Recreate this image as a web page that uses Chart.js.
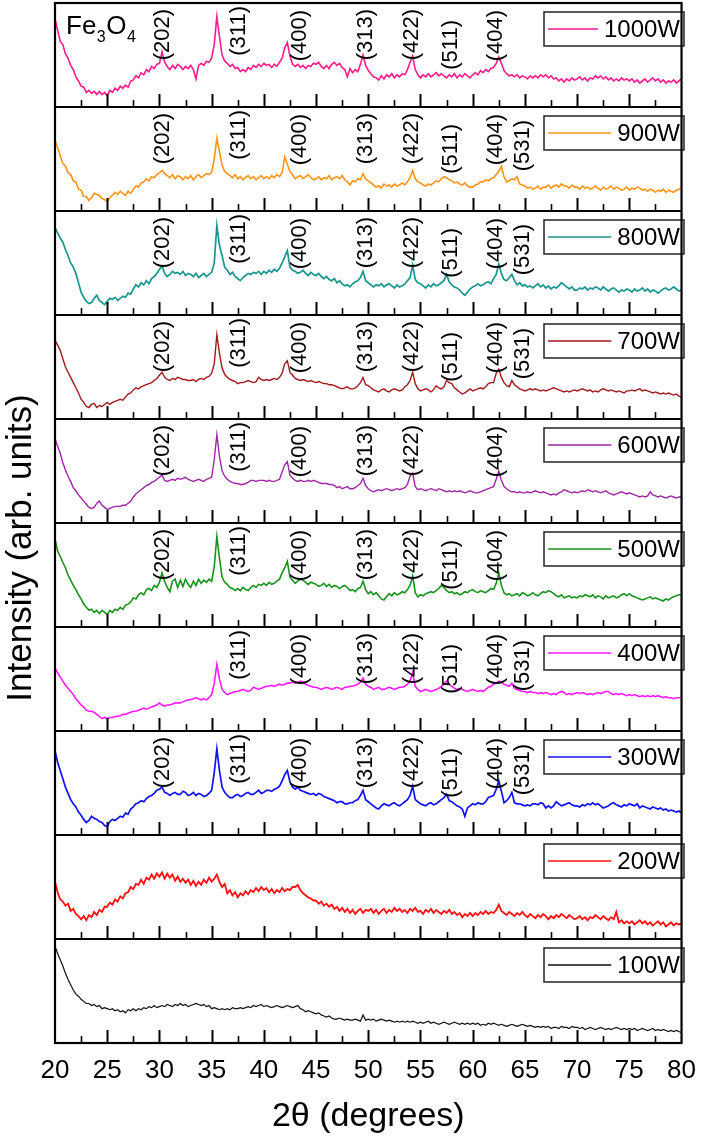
<!DOCTYPE html>
<html>
<head>
<meta charset="utf-8">
<title>Fe3O4 XRD patterns</title>
<script src="https://cdn.jsdelivr.net/npm/chart.js@4.4.1/dist/chart.umd.min.js"></script>
<style>
  html, body { margin: 0; padding: 0; background: #fff; }
  #wrap { width: 708px; height: 1139px; }
</style>
</head>
<body>
<div id="wrap"><canvas id="xrdChart" width="708" height="1139"></canvas></div>
<script>
// ── Data (0.25° sampling, panel units 0–100) ──
const STEP = 0.25;
const twoTheta = Array.from({ length: 241 }, (_, i) => 20 + i * STEP);
const xTicks = [20, 25, 30, 35, 40, 45, 50, 55, 60, 65, 70, 75, 80];

const powers = ['1000W', '900W', '800W', '700W', '600W', '500W', '400W', '300W', '200W', '100W'];

const w1000 = [
  85,74,63,60,51,47,40,36,29,25,20,19,14,16,13,15,12,15,12,14,
  11,16,14,18,16,20,18,21,19,25,26,30,28,33,31,36,34,39,37,41,
  42,53,43,39,36,40,37,41,39,36,39,37,40,36,27,40,42,40,44,43,
  47,60,87,68,50,44,42,39,41,37,38,34,36,34,38,36,40,38,41,39,
  42,40,41,38,41,39,43,47,57,62,49,41,39,41,38,40,37,40,39,42,
  41,43,39,37,40,37,41,43,40,42,38,36,29,37,33,36,34,41,50,40,
  35,32,29,28,26,30,27,31,29,32,28,31,29,32,31,36,43,49,36,31,
  28,31,29,32,29,31,33,30,32,30,28,31,29,32,28,31,29,32,30,28,
  31,33,31,35,33,36,34,37,38,42,48,42,35,32,30,31,29,31,28,30,
  29,27,30,28,30,28,31,29,31,28,30,27,28,25,27,24,27,25,28,26,
  27,29,26,28,25,28,27,30,28,30,27,29,26,28,25,27,25,28,26,27,
  25,27,24,26,23,25,27,24,26,28,25,27,24,26,23,25,24,26,23,25,
  27
];
const w900 = [
  68,61,53,46,43,37,35,29,28,21,20,14,14,10,13,17,16,15,12,11,
  9,13,15,18,16,19,17,15,19,17,21,24,23,27,28,31,29,33,32,35,
  37,39,36,34,32,35,31,34,33,30,33,31,34,30,33,35,32,34,36,35,
  37,50,70,57,44,38,36,34,32,35,31,33,30,32,34,31,33,30,32,34,
  31,33,31,34,32,35,33,37,52,45,38,35,31,33,34,31,33,35,32,30,
  31,33,30,32,31,34,30,32,33,31,34,30,28,25,29,28,31,30,36,31,
  29,27,25,23,24,22,26,24,25,23,26,24,25,27,25,28,32,39,31,28,
  27,25,24,26,25,27,29,28,31,33,32,30,29,27,28,26,25,27,24,23,
  23,25,26,28,28,30,29,31,32,35,38,43,33,28,29,31,30,33,26,25,
  24,22,23,21,22,24,21,23,23,25,22,24,25,23,26,24,24,22,25,23,
  23,21,24,22,23,21,22,24,22,20,23,21,22,24,21,23,22,20,21,23,
  20,22,21,23,22,20,21,19,21,20,18,20,19,21,18,20,19,18,20,21,
  22
];
const w800 = [
  84,79,74,70,63,57,50,46,40,31,22,17,13,11,12,16,19,14,12,10,
  13,16,15,17,14,16,18,17,21,20,25,29,27,31,29,33,30,35,37,40,
  44,47,40,37,39,42,40,41,39,42,38,40,39,37,40,36,38,40,37,39,
  41,50,86,67,57,46,43,39,41,37,35,33,36,38,40,39,41,40,42,39,
  42,40,43,41,44,42,45,50,56,62,46,43,42,40,41,43,40,38,41,39,
  38,40,37,35,37,34,33,35,31,33,30,28,29,27,30,32,33,36,42,33,
  31,29,27,29,28,30,27,29,30,28,26,29,27,28,30,33,36,48,34,31,
  30,28,26,29,27,30,28,29,31,33,39,32,29,27,26,24,21,19,22,25,
  27,28,30,28,29,31,32,30,35,39,49,40,34,33,36,39,33,29,31,28,
  29,27,28,26,28,30,27,29,26,28,25,27,26,28,31,29,27,25,27,24,
  24,26,25,27,24,26,25,27,26,24,27,25,23,25,26,24,22,24,23,25,
  24,22,25,23,24,26,23,25,22,24,23,21,23,25,26,24,25,27,25,23,
  24
];
const w700 = [
  76,71,66,58,50,45,40,35,30,25,19,16,12,11,14,15,11,13,12,14,
  16,14,16,17,18,19,18,21,24,25,28,30,29,31,32,33,34,35,37,39,
  42,45,40,38,37,39,38,40,39,38,38,37,37,38,36,38,39,38,40,41,
  44,53,81,63,49,43,40,38,37,36,34,35,35,36,37,36,35,36,40,38,
  37,38,37,38,39,38,40,44,53,56,45,42,39,38,37,38,37,36,37,36,
  35,36,35,34,34,33,33,32,31,30,29,30,31,29,29,30,32,35,40,33,
  32,30,28,27,26,28,29,27,26,28,29,28,27,28,31,33,37,45,34,29,
  27,28,29,28,26,28,32,30,29,31,37,35,34,30,28,26,24,25,27,29,
  27,28,29,30,29,31,34,35,35,44,48,40,35,32,31,37,33,31,29,28,
  27,28,29,28,29,28,27,28,27,28,29,30,29,28,27,26,27,26,27,28,
  27,28,29,28,27,28,26,27,26,28,29,28,27,28,27,26,27,26,25,27,
  27,28,27,28,29,27,28,27,26,25,26,25,24,25,24,25,24,23,24,22,
  21
];
const w600 = [
  81,74,67,58,51,45,40,34,31,27,24,21,18,15,14,15,19,21,17,15,
  13,14,15,16,16,16,17,17,19,21,25,28,30,32,34,36,37,39,40,42,
  44,46,41,40,41,42,41,43,42,43,44,42,41,40,41,42,41,40,42,43,
  44,61,85,64,50,45,42,40,39,38,38,37,37,38,39,41,41,40,41,41,
  41,40,41,40,40,41,42,49,56,59,46,43,41,40,41,40,40,41,40,41,
  40,39,38,38,38,37,37,36,34,35,33,34,35,33,33,34,36,38,43,36,
  33,31,30,31,32,31,32,33,32,31,32,33,32,33,34,37,45,48,35,32,
  33,32,31,32,33,32,31,33,32,31,30,31,30,31,30,31,30,29,30,31,
  30,29,29,30,31,32,33,34,35,42,50,41,35,33,31,30,30,29,30,29,
  29,30,29,30,31,30,29,30,29,28,27,28,27,29,30,32,31,30,29,30,
  29,30,31,30,32,31,30,31,30,29,30,31,29,28,27,28,29,30,29,28,
  29,28,27,26,25,26,25,26,30,27,26,25,26,25,24,25,26,25,24,25,
  25
];
const w500 = [
  85,73,68,62,57,50,45,40,36,31,27,22,19,16,17,14,16,13,16,14,
  12,16,14,17,16,19,17,21,22,24,28,27,31,33,31,36,37,35,40,38,
  43,52,44,38,34,44,46,38,45,39,46,41,38,44,40,46,42,45,43,46,
  44,58,87,66,48,43,41,38,37,35,37,35,38,36,35,38,40,38,41,40,
  42,40,43,41,42,44,46,52,57,63,48,45,42,44,46,45,43,41,43,42,
  41,39,40,42,39,41,38,40,39,37,39,40,38,35,36,34,37,38,44,36,
  32,34,31,33,30,27,26,29,32,30,33,31,32,34,33,36,40,49,33,29,
  31,30,32,33,34,33,35,37,40,38,35,33,34,32,33,31,32,34,33,35,
  36,34,33,35,34,33,35,37,36,42,52,40,33,31,32,30,31,32,30,33,
  32,30,31,33,31,30,32,34,33,35,34,32,30,29,31,28,29,30,28,29,
  28,30,29,31,30,29,31,28,30,29,27,30,28,29,30,28,29,31,32,30,
  32,30,29,28,27,26,27,28,29,27,28,27,26,25,27,26,28,29,30,31,
  31
];
const w400 = [
  61,56,52,48,44,41,38,35,31,28,25,23,20,19,19,18,16,14,12,13,
  12,13,13,14,14,15,16,16,17,18,19,19,20,21,22,21,22,23,24,25,
  27,25,24,25,25,26,27,27,27,28,29,30,30,31,32,31,30,31,30,32,
  35,46,64,50,40,37,35,36,37,38,38,39,40,39,38,39,42,41,40,41,
  42,43,43,44,43,44,45,44,45,46,46,47,46,47,48,47,45,44,43,42,
  42,41,40,41,42,41,40,41,42,41,40,42,42,43,43,44,45,47,51,45,
  43,42,40,41,42,40,40,41,42,41,40,41,42,42,43,45,48,56,43,40,
  38,39,40,39,38,39,40,41,43,45,48,45,43,41,40,41,40,39,38,39,
  40,39,38,39,38,40,42,43,45,46,48,47,45,44,43,46,41,40,39,38,
  38,37,38,37,37,36,37,36,37,36,35,36,35,37,38,37,35,36,35,36,
  37,36,37,36,35,36,35,36,37,36,37,38,38,36,35,36,35,36,35,34,
  35,34,35,34,33,34,33,34,33,34,33,34,33,32,33,32,32,31,32,32,
  32
];
const w300 = [
  81,70,62,54,46,40,34,30,27,22,19,15,12,14,18,16,15,13,12,9,
  8,13,15,14,16,18,17,21,20,25,27,30,31,33,32,35,37,38,40,43,
  44,46,41,40,38,40,41,39,39,42,41,38,39,41,38,40,39,37,38,40,
  43,60,83,62,46,41,38,36,36,38,39,37,38,40,41,39,39,41,43,40,
  41,43,43,42,44,45,47,52,58,62,51,46,44,46,43,42,41,40,39,40,
  38,40,39,37,36,35,34,33,31,32,32,30,30,31,31,33,34,38,43,34,
  32,30,28,26,25,28,30,29,28,30,31,29,28,30,32,34,38,47,34,32,
  30,29,28,30,31,29,30,32,34,36,39,33,32,30,28,27,25,18,26,28,
  30,29,31,30,30,32,36,37,38,44,52,42,31,33,36,41,31,30,30,29,
  28,29,28,30,30,29,31,30,26,28,26,28,32,30,28,29,30,31,29,28,
  28,27,29,28,30,29,31,29,30,28,26,27,28,30,31,29,28,27,29,28,
  30,29,28,30,26,28,27,26,25,27,26,25,26,24,25,23,24,23,22,23,
  21
];
const w200 = [
  55,45,38,36,32,34,27,29,24,22,19,22,18,23,21,26,23,28,26,31,
  31,35,33,38,36,41,39,44,45,50,48,53,52,57,53,59,57,62,58,63,
  60,64,58,63,59,62,56,60,55,58,54,57,52,56,51,55,52,57,54,59,
  55,58,62,55,50,53,44,47,42,45,40,44,42,46,43,47,45,49,46,50,
  47,49,45,48,44,47,45,49,46,48,47,50,50,52,47,44,42,40,39,37,
  37,34,36,32,34,31,33,29,31,27,30,26,29,25,28,24,27,29,25,28,
  27,29,25,28,24,27,29,25,28,26,30,27,29,26,28,25,29,27,30,26,
  27,24,28,26,29,25,28,26,24,27,25,28,24,26,23,25,21,24,22,25,
  22,25,23,26,24,27,24,26,25,28,33,27,25,23,26,24,22,25,23,26,
  23,21,24,22,20,23,21,24,22,19,22,20,23,21,24,22,20,23,21,19,
  20,22,19,21,18,21,20,23,21,19,22,20,18,21,19,26,16,18,15,17,
  15,17,14,16,18,15,17,14,16,13,15,17,14,16,12,14,16,13,15,14,
  15
];
const w100 = [
  93,86,80,74,67,61,56,51,47,45,42,40,38,38,36,37,35,36,33,34,
  33,32,33,31,32,30,31,29,32,31,33,31,33,32,34,33,35,34,36,34,
  35,36,35,37,36,35,37,36,38,36,37,35,36,37,38,37,36,37,35,36,
  33,34,33,32,33,32,33,32,34,33,33,34,33,34,35,34,36,35,36,37,
  35,36,35,34,35,36,35,34,35,36,35,34,35,36,33,32,30,31,30,29,
  28,29,27,26,25,26,24,23,23,24,23,22,23,22,22,23,22,21,27,22,
  23,22,23,21,22,23,22,21,22,21,20,21,20,21,20,21,20,21,20,19,
  20,19,20,21,19,20,19,18,19,20,19,18,19,20,19,18,19,18,19,18,
  19,18,19,17,18,17,19,18,19,18,17,18,17,16,17,18,17,16,17,18,
  17,16,17,16,15,16,15,16,15,16,14,15,15,14,16,15,15,14,16,15,
  15,14,15,13,14,15,14,13,14,15,14,13,14,13,14,15,14,13,14,13,
  14,13,14,12,13,14,13,12,13,14,12,13,12,13,12,11,12,11,12,11,
  10
];
const intensities = [w1000, w900, w800, w700, w600, w500, w400, w300, w200, w100];

// Reflections marked in each panel and where they are written (2θ)
const peakPos = { '(202)': 30.3, '(311)': 37.6, '(400)': 43.5, '(313)': 49.8,
                  '(422)': 54.15, '(511)': 57.9, '(404)': 62.2, '(531)': 64.8 };
const peakSets = [
  ['(202)', '(311)', '(400)', '(313)', '(422)', '(511)', '(404)'],
  ['(202)', '(311)', '(400)', '(313)', '(422)', '(511)', '(404)', '(531)'],
  ['(202)', '(311)', '(400)', '(313)', '(422)', '(511)', '(404)', '(531)'],
  ['(202)', '(311)', '(400)', '(313)', '(422)', '(511)', '(404)', '(531)'],
  ['(202)', '(311)', '(400)', '(313)', '(422)', '(404)'],
  ['(202)', '(311)', '(400)', '(313)', '(422)', '(511)', '(404)'],
  ['(311)', '(400)', '(313)', '(422)', '(511)', '(404)', '(531)'],
  ['(202)', '(311)', '(400)', '(313)', '(422)', '(511)', '(404)', '(531)'],
  [],
  []
];

// ── Styling ───────────────────────────────────────
const COLORS = ['#ff1a8c', '#ff9414', '#17968f', '#a3181c', '#a126a6',
                '#16921a', '#ff1aff', '#1010ff', '#ff1010', '#111111'];
const WIDTHS = [1.6, 1.6, 1.7, 1.4, 1.4, 1.6, 1.6, 1.7, 1.8, 1.2];
const FONT = '"Liberation Sans", Arial, Helvetica, sans-serif';
const labelDrop = { '(202)': 6, '(311)': 3, '(400)': 7, '(313)': 6,
                    '(422)': 6, '(511)': 17, '(404)': 7, '(531)': 13 };

Chart.defaults.font.family = FONT;
Chart.defaults.color = '#000';

// one stacked y axis per panel; the last added sits on top
const scales = {
  x: {
    type: 'linear', min: 20, max: 80,
    afterBuildTicks: (axis) => { axis.ticks = xTicks.map(v => ({ value: v })); },
    ticks: { font: { size: 26 }, color: '#000', padding: 12, maxRotation: 0, autoSkip: false },
    grid: { display: false, drawTicks: false },
    border: { display: false },
    title: { display: true, text: '2θ (degrees)', font: { size: 34 }, color: '#000', padding: { top: 0, bottom: 2 } },
    afterFit: (axis) => { axis.height = 96; }
  }
};
for (let i = powers.length - 1; i >= 0; i--) {
  scales['p' + i] = {
    type: 'linear', position: 'left', stack: 'panels', stackWeight: 1,
    min: 0, max: 100, display: false
  };
}

// ── Frame, ticks, labels, legends ────────────────
const xrdDecor = {
  id: 'xrdDecor',
  afterDatasetsDraw(chart) {
    const ctx = chart.ctx;
    const { left, right, top, bottom } = chart.chartArea;
    const xs = chart.scales.x;
    ctx.save();

    powers.forEach((name, i) => {
      const ys = chart.scales['p' + i];
      const pTop = ys.top, pBot = ys.bottom;

      // peak labels, rotated
      ctx.fillStyle = '#000';
      ctx.font = '22px ' + FONT;
      peakSets[i].forEach(hkl => {
        const px = xs.getPixelForValue(peakPos[hkl]);
        ctx.save();
        ctx.translate(px, pTop + labelDrop[hkl]);
        ctx.rotate(-Math.PI / 2);
        ctx.textAlign = 'right';
        ctx.textBaseline = 'middle';
        ctx.fillText(hkl, 0, 0);
        ctx.restore();
      });

      // legend box
      ctx.font = '24px ' + FONT;
      ctx.textAlign = 'right';
      ctx.textBaseline = 'middle';
      const boxL = 544, boxR = 684, boxT = pTop + 9, boxB = pTop + 43;
      const textR = 680, midY = (boxT + boxB) / 2;
      const tw = ctx.measureText(name).width;
      ctx.fillStyle = '#fff';
      ctx.fillRect(boxL, boxT, boxR - boxL, boxB - boxT);
      ctx.strokeStyle = '#222';
      ctx.lineWidth = 1.5;
      ctx.strokeRect(boxL, boxT, boxR - boxL, boxB - boxT);
      ctx.strokeStyle = COLORS[i];
      ctx.lineWidth = 1.6;
      ctx.beginPath();
      ctx.moveTo(boxL + 4, midY);
      ctx.lineTo(textR - tw - 6, midY);
      ctx.stroke();
      ctx.fillStyle = '#000';
      ctx.fillText(name, textR, midY + 1);

      // separator and inward ticks along the panel bottom
      ctx.strokeStyle = '#000';
      ctx.lineWidth = 2;
      ctx.beginPath();
      ctx.moveTo(left, pBot);
      ctx.lineTo(right, pBot);
      ctx.stroke();
      for (let v = 22.5; v < 80; v += 2.5) {
        const px = Math.round(xs.getPixelForValue(v)) + 0.5;
        const major = v % 5 === 0;
        ctx.lineWidth = major ? 2 : 1.6;
        ctx.beginPath();
        ctx.moveTo(px, pBot);
        ctx.lineTo(px, pBot - (major ? 13 : 7));
        ctx.stroke();
      }
    });

    // outer frame
    ctx.strokeStyle = '#000';
    ctx.lineWidth = 2.2;
    ctx.strokeRect(left, top, right - left, bottom - top);

    // compound name
    ctx.fillStyle = '#000';
    ctx.textAlign = 'left';
    ctx.textBaseline = 'alphabetic';
    let tx = left + 11;
    [['Fe', 26, 0], ['3', 16, 8], ['O', 26, 0], ['4', 16, 8]].forEach(([s, size, dy]) => {
      ctx.font = size + 'px ' + FONT;
      ctx.fillText(s, tx, top + 31 + dy);
      tx += ctx.measureText(s).width + 0.5;
    });

    // y axis title
    ctx.save();
    ctx.translate(21, 548);
    ctx.rotate(-Math.PI / 2);
    ctx.font = '35px ' + FONT;
    ctx.textAlign = 'center';
    ctx.textBaseline = 'middle';
    ctx.fillText('Intensity (arb. units)', 0, 0);
    ctx.restore();

    ctx.restore();
  }
};

new Chart(document.getElementById('xrdChart'), {
  type: 'line',
  data: {
    datasets: powers.map((name, i) => ({
      label: name,
      data: intensities[i].map((v, k) => ({ x: twoTheta[k], y: v })),
      yAxisID: 'p' + i,
      borderColor: COLORS[i],
      borderWidth: WIDTHS[i],
      pointRadius: 0,
      tension: 0,
      fill: false
    }))
  },
  options: {
    responsive: false,
    devicePixelRatio: 1,
    animation: false,
    layout: { padding: { left: 55, right: 17, top: 3, bottom: 0 } },
    plugins: { legend: { display: false }, tooltip: { enabled: false } },
    scales
  },
  plugins: [xrdDecor]
});
</script>
</body>
</html>
